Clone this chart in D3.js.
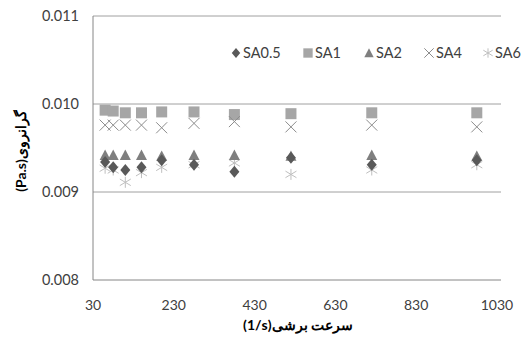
<!DOCTYPE html>
<html>
<head>
<meta charset="utf-8">
<script src="https://cdn.jsdelivr.net/npm/d3@7"></script>
<style>
  body { margin: 0; background: #fff; }
  text { font-family: Lato, "Open Sans", sans-serif; fill: #404040; }
</style>
</head>
<body>
<script>
const shearRates = [60, 80, 110, 150, 200, 280, 380, 520, 720, 980];
const sa05 = [0.00934, 0.00928, 0.00925, 0.00928, 0.00936, 0.00931, 0.00923, 0.00939, 0.00931, 0.00936];
const sa1 = [0.00993, 0.00992, 0.00990, 0.00990, 0.00991, 0.00991, 0.00988, 0.00989, 0.00990, 0.00990];
const sa2 = [0.00942, 0.00942, 0.00942, 0.00942, 0.00941, 0.00942, 0.00942, 0.00941, 0.00942, 0.00941];
const sa4 = [0.00976, 0.00976, 0.00976, 0.00976, 0.00973, 0.00978, 0.00980, 0.00974, 0.00976, 0.00974];
const sa6 = [0.00927, 0.00925, 0.00911, 0.00922, 0.00928, 0.00931, 0.00933, 0.00920, 0.00925, 0.00931];
const seriesNames = ["SA0.5", "SA1", "SA2", "SA4", "SA6"];
const xTicks = [30, 230, 430, 630, 830, 1030];
const yTicks = [0.008, 0.009, 0.010, 0.011];

const width = 527, height = 349;
const margin = { left: 93, right: 30, top: 16, bottom: 69 };

// marker shapes, drawn around (0,0) with half-size r
const shapes = {
  diamond: r => `M0,${-r * 1.2}L${r},0L0,${r * 1.2}L${-r},0Z`,
  square: r => `M${-r},${-r}H${r}V${r}H${-r}Z`,
  triangle: r => `M0,${-r}L${r},${r * 0.9}L${-r},${r * 0.9}Z`,
  cross: r => `M${-r},${-r}L${r},${r}M${-r},${r}L${r},${-r}`,
  star: r => `M${-r},${-r * 0.6}L${r},${r * 0.6}M${-r},${r * 0.6}L${r},${-r * 0.6}M0,${-r}L0,${r}`
};

const series = [
  { name: seriesNames[0], values: sa05, shape: "diamond", r: 5, fill: "#595959", stroke: "none" },
  { name: seriesNames[1], values: sa1, shape: "square", r: 5.5, fill: "#a6a6a6", stroke: "none" },
  { name: seriesNames[2], values: sa2, shape: "triangle", r: 5.5, fill: "#7f7f7f", stroke: "none" },
  { name: seriesNames[3], values: sa4, shape: "cross", r: 5.5, fill: "none", stroke: "#8c8c8c" },
  { name: seriesNames[4], values: sa6, shape: "star", r: 5.5, fill: "none", stroke: "#bfbfbf" }
];
// drawing order: triangles under the diamonds, as in the reference
const drawOrder = [1, 3, 4, 2, 0];

const svg = d3.select("body").append("svg")
  .attr("width", width)
  .attr("height", height);

const x = d3.scaleLinear().domain([30, 1030]).range([margin.left, width - margin.right]);
const y = d3.scaleLinear().domain([0.008, 0.011]).range([height - margin.bottom, margin.top]);

// gridlines
svg.append("g")
  .selectAll("line")
  .data(yTicks)
  .join("line")
  .attr("x1", margin.left)
  .attr("x2", width - margin.right + 4)
  .attr("y1", d => y(d))
  .attr("y2", d => y(d))
  .attr("stroke", d => d === 0.008 ? "#868686" : "#a0a0a0")
  .attr("stroke-width", 1);

svg.append("line")
  .attr("x1", margin.left).attr("x2", margin.left)
  .attr("y1", y(0.011)).attr("y2", y(0.008))
  .attr("stroke", "#868686");

// y tick labels
svg.append("g")
  .selectAll("text")
  .data(yTicks)
  .join("text")
  .attr("x", margin.left - 14)
  .attr("y", d => y(d) + 5)
  .attr("text-anchor", "end")
  .style("font-size", "14.5px")
  .text(d => d3.format(".3f")(d));

// x tick labels
svg.append("g")
  .selectAll("text")
  .data(xTicks)
  .join("text")
  .attr("x", d => x(d))
  .attr("y", height - margin.bottom + 30)
  .attr("text-anchor", "middle")
  .style("font-size", "14px")
  .text(d => d);

drawOrder.forEach(k => {
  const s = series[k];
  svg.append("g")
    .selectAll("path")
    .data(s.values.map((v, i) => [shearRates[i], v]))
    .join("path")
    .attr("transform", d => `translate(${x(d[0])},${y(d[1])})`)
    .attr("d", shapes[s.shape](s.r))
    .attr("fill", s.fill)
    .attr("stroke", s.stroke)
    .attr("stroke-width", 1);
});

// legend
const legendX = [236, 308, 369, 429, 488];
const legend = svg.append("g")
  .selectAll("g")
  .data(series)
  .join("g")
  .attr("transform", (d, i) => `translate(${legendX[i]},53)`);

legend.append("path")
  .attr("d", d => shapes[d.shape](d.r * 0.85))
  .attr("fill", d => d.fill)
  .attr("stroke", d => d.stroke);

legend.append("text")
  .attr("x", 7)
  .attr("y", 5)
  .style("font-size", "14.5px")
  .text(d => d.name);

// axis titles
svg.append("text")
  .attr("transform", `translate(26,151) rotate(-90)`)
  .attr("text-anchor", "middle")
  .attr("direction", "rtl")
  .style("font-weight", "bold")
  .style("font-size", "14px")
  .style("fill", "#000")
  .text("گرانروی(\u2066Pa.s\u2069)");

svg.append("text")
  .attr("x", 298)
  .attr("y", 330)
  .attr("text-anchor", "middle")
  .attr("direction", "rtl")
  .style("font-weight", "bold")
  .style("font-size", "14px")
  .style("fill", "#000")
  .text("سرعت برشی(\u20661/s\u2069)");
</script>
</body>
</html>
